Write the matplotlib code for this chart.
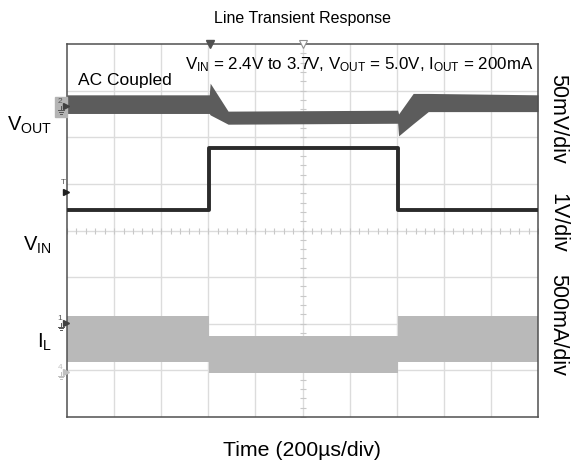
import numpy as np
import matplotlib.pyplot as plt

plt.rcParams['font.family'] = ['Liberation Sans', 'DejaVu Sans']

# scope screen is 10 x 8 divisions
# V_OUT (AC coupled) band, in divisions
vout_t = [0.0, 3.02, 3.04, 3.42, 7.02, 7.04, 7.35, 7.67, 10.0]
vout_hi = [6.91, 6.91, 7.16, 6.56, 6.58, 6.50, 6.94, 6.94, 6.91]
vout_lo = [6.51, 6.51, 6.48, 6.28, 6.30, 6.03, 6.29, 6.55, 6.55]

# V_IN step
vin_t = [0.0, 3.02, 7.02, 10.0]
vin = [4.44, 5.76, 4.44, 4.44]

# I_L ripple band
il_t = [0.0, 3.02, 7.02, 10.0]
il_hi = [2.17, 1.74, 2.17, 2.17]
il_lo = [1.19, 0.95, 1.19, 1.19]

W, H = 571, 465
fig = plt.figure(figsize=(W / 100, H / 100), dpi=100)
ax = fig.add_axes([67 / W, 1 - 417 / H, 471 / W, 373 / H])
ax.set_xlim(0, 10)
ax.set_ylim(0, 8)

# grid
for gx in range(1, 10):
    ax.axvline(gx, color='#dcdcdc', lw=1, zorder=0)
for gy in range(1, 8):
    ax.axhline(gy, color='#dcdcdc', lw=1, zorder=0)
mt = np.arange(0, 10.01, 0.2)
ax.plot(mt, np.full(len(mt), 4.0), ls='none', marker='|', ms=4, mew=0.8, color='#c8c8c8', zorder=0)
mt = np.arange(0, 8.01, 0.2)
ax.plot(np.full(len(mt), 5.0), mt, ls='none', marker='_', ms=4, mew=0.8, color='#c8c8c8', zorder=0)

ax.fill_between(vout_t, vout_lo, vout_hi, color='#5c5c5c', lw=0, zorder=2)
ax.plot(vin_t, vin, drawstyle='steps-post', color='#2b2b2b', lw=2.8, zorder=3)
ax.fill_between(il_t, il_lo, il_hi, step='post', color='#b9b9b9', lw=0, zorder=1)

ax.set_xticks([])
ax.set_yticks([])
for s in ax.spines.values():
    s.set_color('#505050')
    s.set_linewidth(1.1)


def ground(x, y, c):
    # small earth symbol, top of stem at (x, y)
    kw = dict(color=c, lw=0.7, clip_on=False, zorder=6)
    ax.plot([x, x], [y, y - 0.08], **kw)
    for i, hw in enumerate([0.06, 0.04, 0.02]):
        yy = y - 0.08 - i * 0.04
        ax.plot([x - hw, x + hw], [yy, yy], **kw)


# scope markers
ax.plot([3.03], [8.0], marker='v', ms=6, color='#505050', clip_on=False, zorder=5)
ax.plot([5.0], [8.0], marker='v', ms=6, mfc='white', mec='#909090', mew=0.8, clip_on=False, zorder=5)
ax.add_patch(plt.Rectangle((-0.25, 6.44), 0.25, 0.43, color='#b4b4b4', clip_on=False, zorder=5))
ax.text(-0.15, 6.76, '2', fontsize=6, color='#555555', ha='center', va='center', zorder=6)
ground(-0.13, 6.66, '#555555')
ax.plot([-0.03], [6.68], marker='>', ms=4, color='#404040', clip_on=False, zorder=6)
ax.plot([-0.02], [4.83], marker='>', ms=5, color='#202020', clip_on=False, zorder=6)
ax.text(-0.07, 5.02, 'T', fontsize=6, color='#555555', ha='center', va='center', zorder=6)
ax.plot([-0.02], [2.02], marker='>', ms=4, color='#404040', clip_on=False, zorder=6)
ax.text(-0.15, 2.12, '1', fontsize=6, color='#555555', ha='center', va='center', zorder=6)
ground(-0.13, 2.02, '#555555')
ax.plot([-0.02], [0.97], marker='>', ms=4, color='#c0c0c0', clip_on=False, zorder=6)
ax.text(-0.15, 1.07, '4', fontsize=6, color='#c0c0c0', ha='center', va='center', zorder=6)
ground(-0.13, 0.97, '#c0c0c0')


def ftext(x, y, s, **kw):
    fig.text(x / W, 1 - y / H, s, **kw)


ftext(302, 18, 'Line Transient Response', fontsize=11.5, ha='center', va='center')
ftext(78, 81, 'AC Coupled', fontsize=12.5, ha='left', va='center')
ftext(533, 65, r'$\mathregular{V_{IN}}$ = 2.4V to 3.7V, $\mathregular{V_{OUT}}$ = 5.0V, '
               r'$\mathregular{I_{OUT}}$ = 200mA', fontsize=12.2, ha='right', va='center')
ftext(52, 125, r'$\mathregular{V_{OUT}}$', fontsize=14.5, ha='right', va='center')
ftext(52, 245, r'$\mathregular{V_{IN}}$', fontsize=14.5, ha='right', va='center')
ftext(52, 342, r'$\mathregular{I_{L}}$', fontsize=14.5, ha='right', va='center')
ftext(558, 119, '50mV/div', fontsize=15.5, rotation=-90, ha='center', va='center')
ftext(558, 223, '1V/div', fontsize=15.5, rotation=-90, ha='center', va='center')
ftext(558, 325, '500mA/div', fontsize=15.5, rotation=-90, ha='center', va='center')
ftext(302, 450, 'Time (200µs/div)', fontsize=15.3, ha='center', va='center')

fig.savefig('out.png', dpi=100)
